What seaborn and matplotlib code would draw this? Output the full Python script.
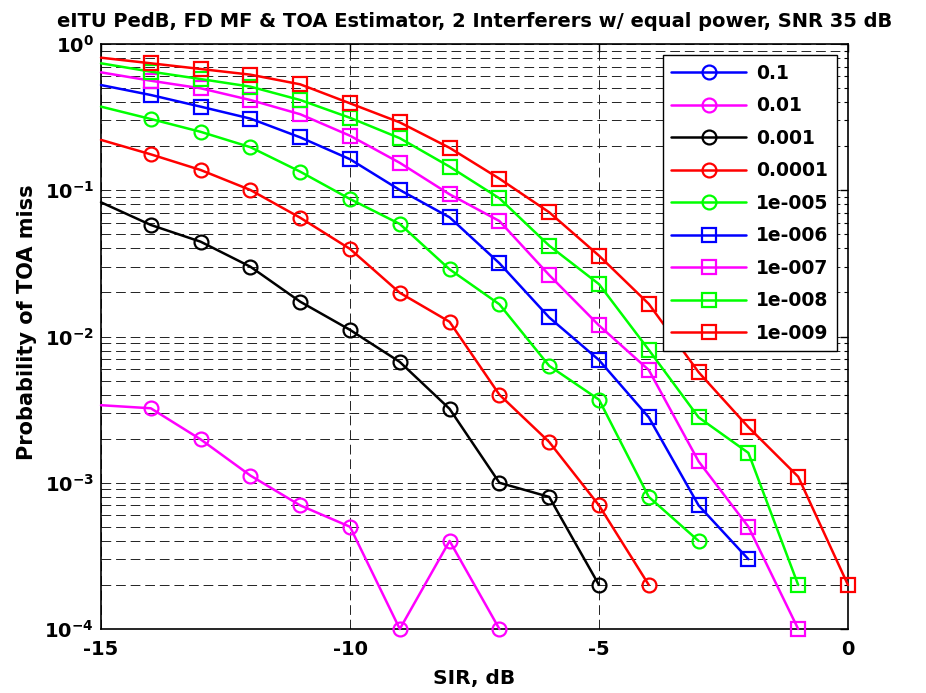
import numpy as np
import matplotlib
matplotlib.use("Agg")
import matplotlib.pyplot as plt
from matplotlib.lines import Line2D
from matplotlib.ticker import LogLocator, LogFormatterMathtext, FixedLocator, NullFormatter
import seaborn as sns

# ---------------- data ----------------
sir_db = [-15, -14, -13, -12, -11, -10, -9, -8, -7, -6, -5, -4, -3, -2, -1, 0]
series_labels = ["0.1", "0.01", "0.001", "0.0001", "1e-005", "1e-006", "1e-007", "1e-008", "1e-009"]
nan = np.nan
p_01 = [nan] * 16
p_001 = [0.00339, 0.00323, 0.00198, 0.00112, 0.0007, 0.0005, 0.0001, 0.0004, 0.0001,
         nan, nan, nan, nan, nan, nan, nan]
p_0001 = [0.0827, 0.0579, 0.0445, 0.0300, 0.0173, 0.0111, 0.0067, 0.0032, 0.0010, 0.0008,
          0.0002, nan, nan, nan, nan, nan]
p_1em4 = [0.221, 0.176, 0.1376, 0.1004, 0.0649, 0.0397, 0.0199, 0.0126, 0.0040, 0.0019,
          0.0007, 0.0002, nan, nan, nan, nan]
p_1em5 = [0.373, 0.307, 0.251, 0.197, 0.134, 0.0871, 0.0588, 0.0288, 0.0166, 0.0063,
          0.0037, 0.0008, 0.0004, nan, nan, nan]
p_1em6 = [0.524, 0.448, 0.373, 0.309, 0.230, 0.163, 0.1004, 0.0653, 0.0317, 0.0135,
          0.0069, 0.0028, 0.0007, 0.0003, nan, nan]
p_1em7 = [0.640, 0.561, 0.498, 0.414, 0.331, 0.236, 0.154, 0.0938, 0.0616, 0.0263,
          0.0119, 0.0059, 0.0014, 0.0005, 0.0001, nan]
p_1em8 = [0.738, 0.647, 0.576, 0.511, 0.414, 0.313, 0.227, 0.145, 0.0881, 0.0418,
          0.0228, 0.0081, 0.0028, 0.0016, 0.0002, nan]
p_1em9 = [0.806, 0.738, 0.675, 0.617, 0.530, 0.393, 0.291, 0.195, 0.120, 0.0707,
          0.0357, 0.0167, 0.0057, 0.0024, 0.0011, 0.0002]
series_values = [p_01, p_001, p_0001, p_1em4, p_1em5, p_1em6, p_1em7, p_1em8, p_1em9]

# ---------------- style ----------------
colors = ["#0000ff", "#ff00ff", "#000000", "#ff0000", "#00ff00",
          "#0000ff", "#ff00ff", "#00ff00", "#ff0000"]
markers = ["o", "o", "o", "o", "o", "s", "s", "s", "s"]

sns.set_theme(style="white")
plt.rcParams["font.family"] = ["DejaVu Sans"]
plt.rcParams["font.weight"] = "bold"
plt.rcParams["axes.unicode_minus"] = False
plt.rcParams["mathtext.default"] = "bf"
for key in ["text.color", "axes.labelcolor", "xtick.color", "ytick.color",
            "xtick.labelcolor", "ytick.labelcolor"]:
    plt.rcParams[key] = "black"

fig = plt.figure(figsize=(9.26, 6.93), dpi=100)
ax = fig.add_axes([101 / 926, 1 - 629 / 693, 747 / 926, 585 / 693])

for vals, col, mk in zip(series_values, colors, markers):
    x = np.array(sir_db, dtype=float)
    y = np.array(vals, dtype=float)
    ok = ~np.isnan(y)
    if not ok.any():
        continue
    sns.lineplot(x=x[ok], y=y[ok], ax=ax, color=col, marker=mk, markersize=10,
                 markerfacecolor="none", markeredgecolor=col, markeredgewidth=1.6,
                 linewidth=1.8, markevery=slice(1, None), errorbar=None,
                 clip_on=False, zorder=3, legend=False)

ax.set_yscale("log")
ax.set_xlim(-15, 0)
ax.set_ylim(1e-4, 1)
ax.xaxis.set_major_locator(FixedLocator([-15, -10, -5, 0]))
ax.yaxis.set_major_locator(LogLocator(base=10, numticks=10))
ax.yaxis.set_minor_locator(LogLocator(base=10, subs=np.arange(2, 10), numticks=20))
ax.yaxis.set_major_formatter(LogFormatterMathtext())
ax.yaxis.set_minor_formatter(NullFormatter())

grid_kw = dict(color="#222222", linestyle=(0, (10, 5)), linewidth=0.7)
ax.grid(True, which="major", axis="both", **grid_kw)
ax.grid(True, which="minor", axis="y", **grid_kw)
ax.set_axisbelow(True)

ax.tick_params(axis="both", which="both", direction="in", top=True, right=True,
               labelsize=14, colors="black", labelcolor="black")
ax.tick_params(axis="x", which="major", pad=8)
ax.tick_params(axis="y", which="major", pad=5)
ax.tick_params(axis="both", which="major", length=6, width=1)
ax.tick_params(axis="y", which="minor", length=3, width=0.8)
for t in ax.get_xticklabels() + ax.get_yticklabels():
    t.set_fontweight("bold")
for s in ax.spines.values():
    s.set_color("black")
    s.set_linewidth(1.2)

ax.set_title("eITU PedB, FD MF & TOA Estimator, 2 Interferers w/ equal power, SNR 35 dB",
             fontsize=14, fontweight="bold", pad=12, color="black")
ax.set_xlabel("SIR, dB", fontsize=14.5, fontweight="bold", labelpad=7, color="black")
ax.set_ylabel("Probability of TOA miss", fontsize=15, fontweight="bold", color="black")
ax.yaxis.set_label_coords(-0.086, 0.525)

handles = [Line2D([0], [0], color=c, marker=m, markersize=10, markerfacecolor="none",
                  markeredgecolor=c, markeredgewidth=1.6, linewidth=1.8)
           for c, m in zip(colors, markers)]
leg = ax.legend(handles, series_labels, loc="upper right",
                prop={"weight": "bold", "size": 13.5}, frameon=True, fancybox=False,
                edgecolor="black", framealpha=1, borderaxespad=0.6, handlelength=4.0,
                labelspacing=0.72, borderpad=0.45, handletextpad=0.5)
leg.get_frame().set_linewidth(1.0)
for t in leg.get_texts():
    t.set_color("black")

fig.savefig("out.png", dpi=100)
